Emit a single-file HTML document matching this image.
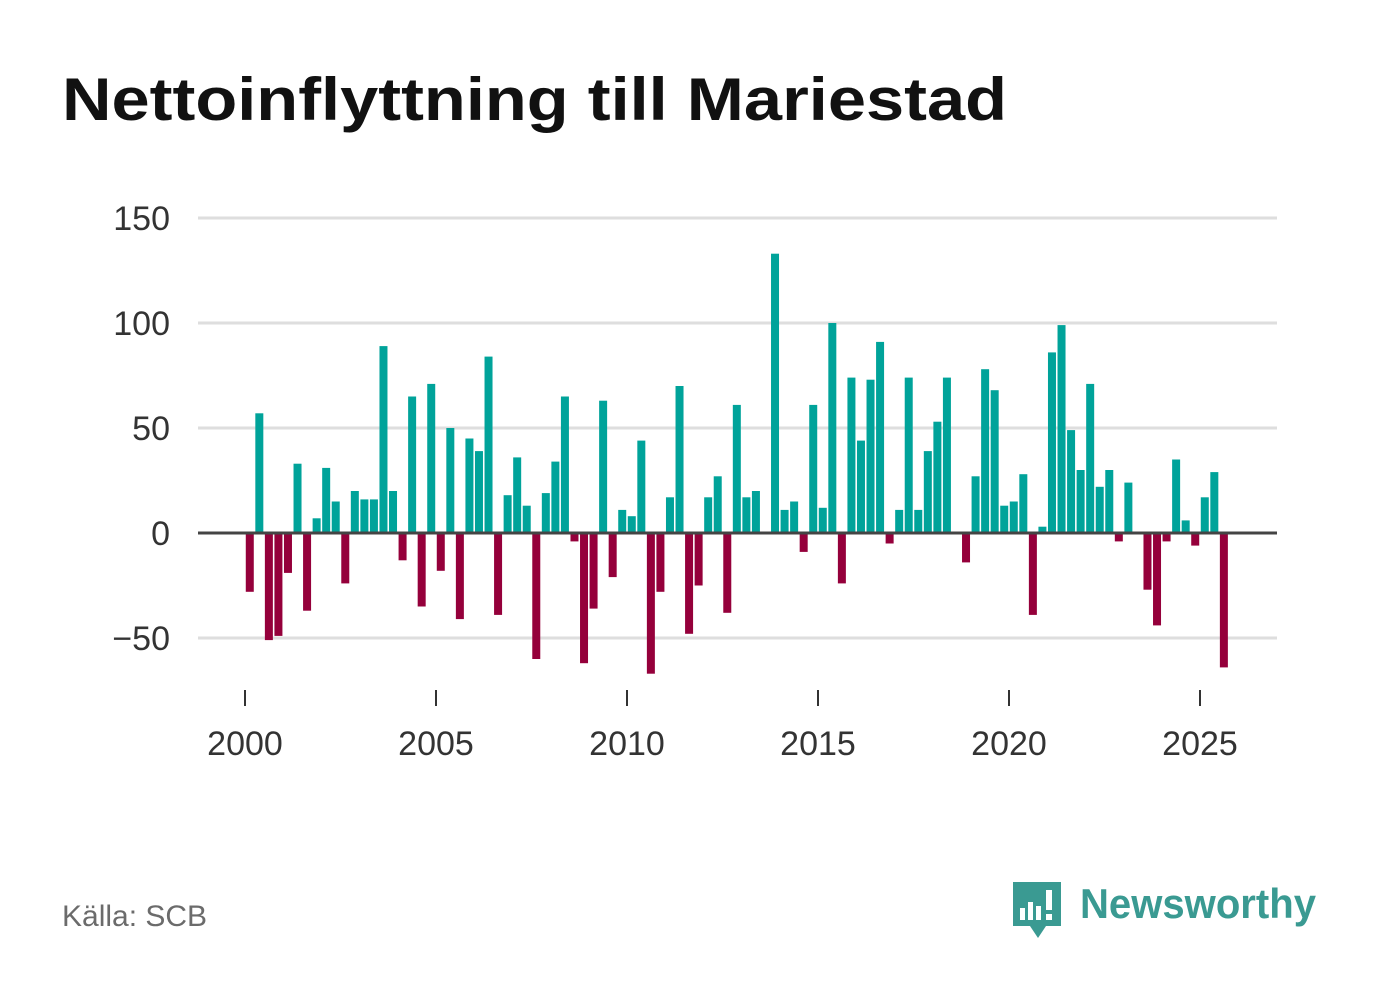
<!DOCTYPE html>
<html><head><meta charset="utf-8"><style>
body{margin:0;width:1382px;height:999px;background:#fff;font-family:"Liberation Sans",sans-serif;overflow:hidden;position:relative}
.src{position:absolute;left:62px;top:900px;font-size:30px;color:#6b6b6b}
.logo{position:absolute;left:1010px;top:878px}
</style></head><body>
<svg style="position:absolute;left:0;top:0" width="1382" height="150"><text x="62" y="120" font-size="60" font-weight="bold" fill="#111" textLength="945" lengthAdjust="spacingAndGlyphs" font-family="Liberation Sans, sans-serif">Nettoinflyttning till Mariestad</text></svg>
<svg id="c" width="1382" height="999" style="position:absolute;left:0;top:0"></svg>
<div class="src">Källa: SCB</div>
<div class="logo">
<svg width="330" height="70">
<path d="M3 4h48v44H36l-8 12-8-12H3z" fill="#3a9a92"/>
<rect x="10" y="30" width="5" height="12" fill="#fff"/><rect x="18" y="24" width="5" height="18" fill="#fff"/><rect x="26" y="28" width="5" height="14" fill="#fff"/><rect x="36" y="12" width="6" height="20" fill="#fff"/><rect x="36" y="36" width="6" height="6" fill="#fff"/>
<text x="70" y="40" font-size="42" font-weight="bold" fill="#3a9a92" textLength="236" lengthAdjust="spacingAndGlyphs" font-family="Liberation Sans, sans-serif">Newsworthy</text>
</svg></div>
<script>
const values=[-28,57,-51,-49,-19,33,-37,7,31,15,-24,20,16,16,89,20,-13,65,-35,71,-18,50,-41,45,39,84,-39,18,36,13,-60,19,34,65,-4,-62,-36,63,-21,11,8,44,-67,-28,17,70,-48,-25,17,27,-38,61,17,20,0,133,11,15,-9,61,12,100,-24,74,44,73,91,-5,11,74,11,39,53,74,0,-14,27,78,68,13,15,28,-39,3,86,99,49,30,71,22,30,-4,24,0,-27,-44,-4,35,6,-6,17,29,-64];
const startYear=2000;
const yTicks=[150,100,50,0,-50];
const xTicks=[2000,2005,2010,2015,2020,2025];
const svg=document.getElementById('c');const NS='http://www.w3.org/2000/svg';
const y=v=>533-v*2.1;const x=t=>245+(t-2000)*38.2;
function mk(tag,a){const e=document.createElementNS(NS,tag);for(const k in a)e.setAttribute(k,a[k]);svg.appendChild(e);return e;}
yTicks.forEach(v=>{
 if(v!==0){const l=mk('line',{x1:198,x2:1277,y1:y(v),y2:y(v),stroke:'#dedede','stroke-width':3});
 
 }
 const t=mk('text',{x:170,y:y(v)+12,'text-anchor':'end','font-size':34,fill:'#333'});t.textContent=v<0?'−'+Math.abs(v):v;
 
 
});
values.forEach((v,i)=>{
 const cx=x(startYear+(i+0.5)/4);
 const r=mk('rect',{x:cx-4,width:8,y:v>=0?y(v):y(0),height:Math.abs(y(v)-y(0)),fill:v>=0?'#00a39a':'#95003b'});
 
 
});
const z=mk('line',{x1:198,x2:1277,y1:y(0),y2:y(0),stroke:'#444','stroke-width':3});


xTicks.forEach(yr=>{
 const l=mk('line',{x1:x(yr),x2:x(yr),y1:690,y2:706,stroke:'#333','stroke-width':2});
 
 
 const t=mk('text',{x:x(yr),y:755,'text-anchor':'middle','font-size':34,fill:'#333'});t.textContent=yr;
 
 
});
</script>
</body></html>
